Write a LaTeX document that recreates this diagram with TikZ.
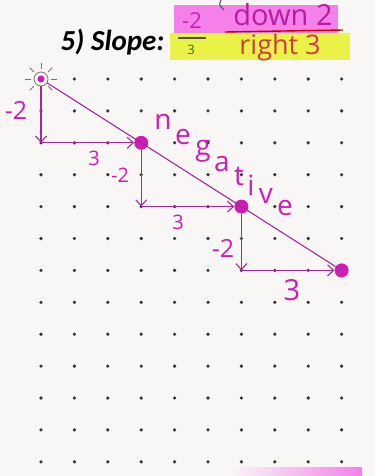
\documentclass[tikz,border=0pt]{standalone}
\usepackage{fontspec}
\setmainfont{Carlito}
\newfontfamily\handfont{Open Sans}
\usetikzlibrary{arrows.meta, calc}
\definecolor{paper}{RGB}{249,247,245}
\definecolor{inkpink}{RGB}{205,30,180}
\definecolor{inkline}{RGB}{165,40,150}
\definecolor{hlpink}{RGB}{244,128,234}
\definecolor{hlyellow}{RGB}{234,242,72}
\definecolor{darkgreen}{RGB}{40,110,40}
\definecolor{inkred}{RGB}{205,60,70}

\begin{document}
\begin{tikzpicture}[x=1pt, y=-1pt,
        griddot/.style={circle, fill=black!80, inner sep=0pt, minimum size=3.6pt},
        blob/.style={circle, fill=inkpink, inner sep=0pt, minimum size=14pt},
        stepline/.style={-{Straight Barb[length=6pt, width=11pt]}, draw=inkline, line width=1.1pt},
        runline/.style={draw=inkline, line width=1.1pt},
        hand/.style={font=\handfont\fontsize{25}{25}\selectfont, text=inkpink},
        smallhand/.style={font=\handfont\fontsize{20}{20}\selectfont, text=inkpink},
        letter/.style={font=\handfont\fontsize{28}{28}\selectfont, text=inkpink, inner sep=0pt},
    ]

    % ===== Paper and highlights =====
    \fill[paper] (0,0) rectangle (375,476);
    \useasboundingbox (0,0) rectangle (375,476);
    \fill[hlpink] (174,5) rectangle (338,33);
    \fill[hlyellow] (170,33) rectangle (350,60);
    \shade[left color=paper, right color=hlpink] (230,467) rectangle (362,476);

    % ===== Title and slope fraction =====
    \node[font=\bfseries\itshape\fontsize{29}{30}\selectfont, anchor=east] (title) at (168,42) {5) Slope:};

    \node[hand, font=\handfont\fontsize{22}{22}\selectfont] (num) at (192,21) {-2};
    \node[font=\handfont\fontsize{13}{13}\selectfont, text=darkgreen] (den) at (191,50) {3};
    \draw[black!70, line width=1.2pt] (178,38) -- (206,38);

    \node[hand, font=\handfont\fontsize{29}{29}\selectfont, text=inkpink!90!black, inner sep=1pt] (down) at (283,15) {down 2};
    \node[hand, font=\handfont\fontsize{27}{27}\selectfont, text=inkred, inner sep=1pt] (right) at (280,47) {right 3};
    \draw[red!80!black, line width=1.4pt] (225,32) -- (343,30);
    \draw[black!70, line width=1pt] (221,0) .. controls (219,5) .. (224,10);

    % ===== Dot grid =====
    \foreach \j in {0,...,12}
        \foreach \i in {0,...,9}
            \node[griddot] (d-\i-\j) at ({41+\i*33.4},{79+\j*31.9}) {};

    % ===== Points on the line =====
    \node[circle, draw=black!55, fill=paper, thick, inner sep=0pt, minimum size=14pt] (pt0) at (d-0-0) {};
    \foreach \a in {0,45,...,315}
        \draw[black!55, thick] ($(pt0)+(\a:10)$) -- ($(pt0)+(\a:16)$);
    \node[circle, fill=inkpink, inner sep=0pt, minimum size=7pt] (pt0c) at (pt0) {};
    \node[blob] (pt1) at (d-3-2) {};
    \node[blob] (pt2) at (d-6-4) {};
    \node[blob] (pt3) at (d-9-6) {};

    \draw[runline] (pt0) -- (pt3);

    % ===== Rise and run steps =====
    \draw[stepline] (pt0) -- (d-0-2.center);
    \draw[stepline] (d-0-2.center) -- (pt1);
    \draw[stepline] (pt1) -- (d-3-4.center);
    \draw[stepline] (d-3-4.center) -- (pt2);
    \draw[stepline] (pt2) -- (d-6-6.center);
    \draw[stepline] (d-6-6.center) -- (pt3);

    % ===== Labels =====
    \node[hand] (r1) at (16,110) {-2};
    \node[smallhand] (s1) at (94,158) {3};
    \node[smallhand] (r2) at (120,175) {-2};
    \node[smallhand] (s2) at (178,222) {3};
    \node[hand] (r3) at (223,248) {-2};
    \node[hand, font=\handfont\fontsize{29}{29}\selectfont] (s3) at (292,290) {3};

    % handwritten word along the line
    \foreach \l/\x/\y [count=\k] in {n/163/122, e/183/137, g/203/151, a/222/164,
                                     t/239/176, i/251/185, v/266/196, e/285/208}
        \node[letter] (w-\k) at (\x,\y) {\l};

\end{tikzpicture}
\end{document}
